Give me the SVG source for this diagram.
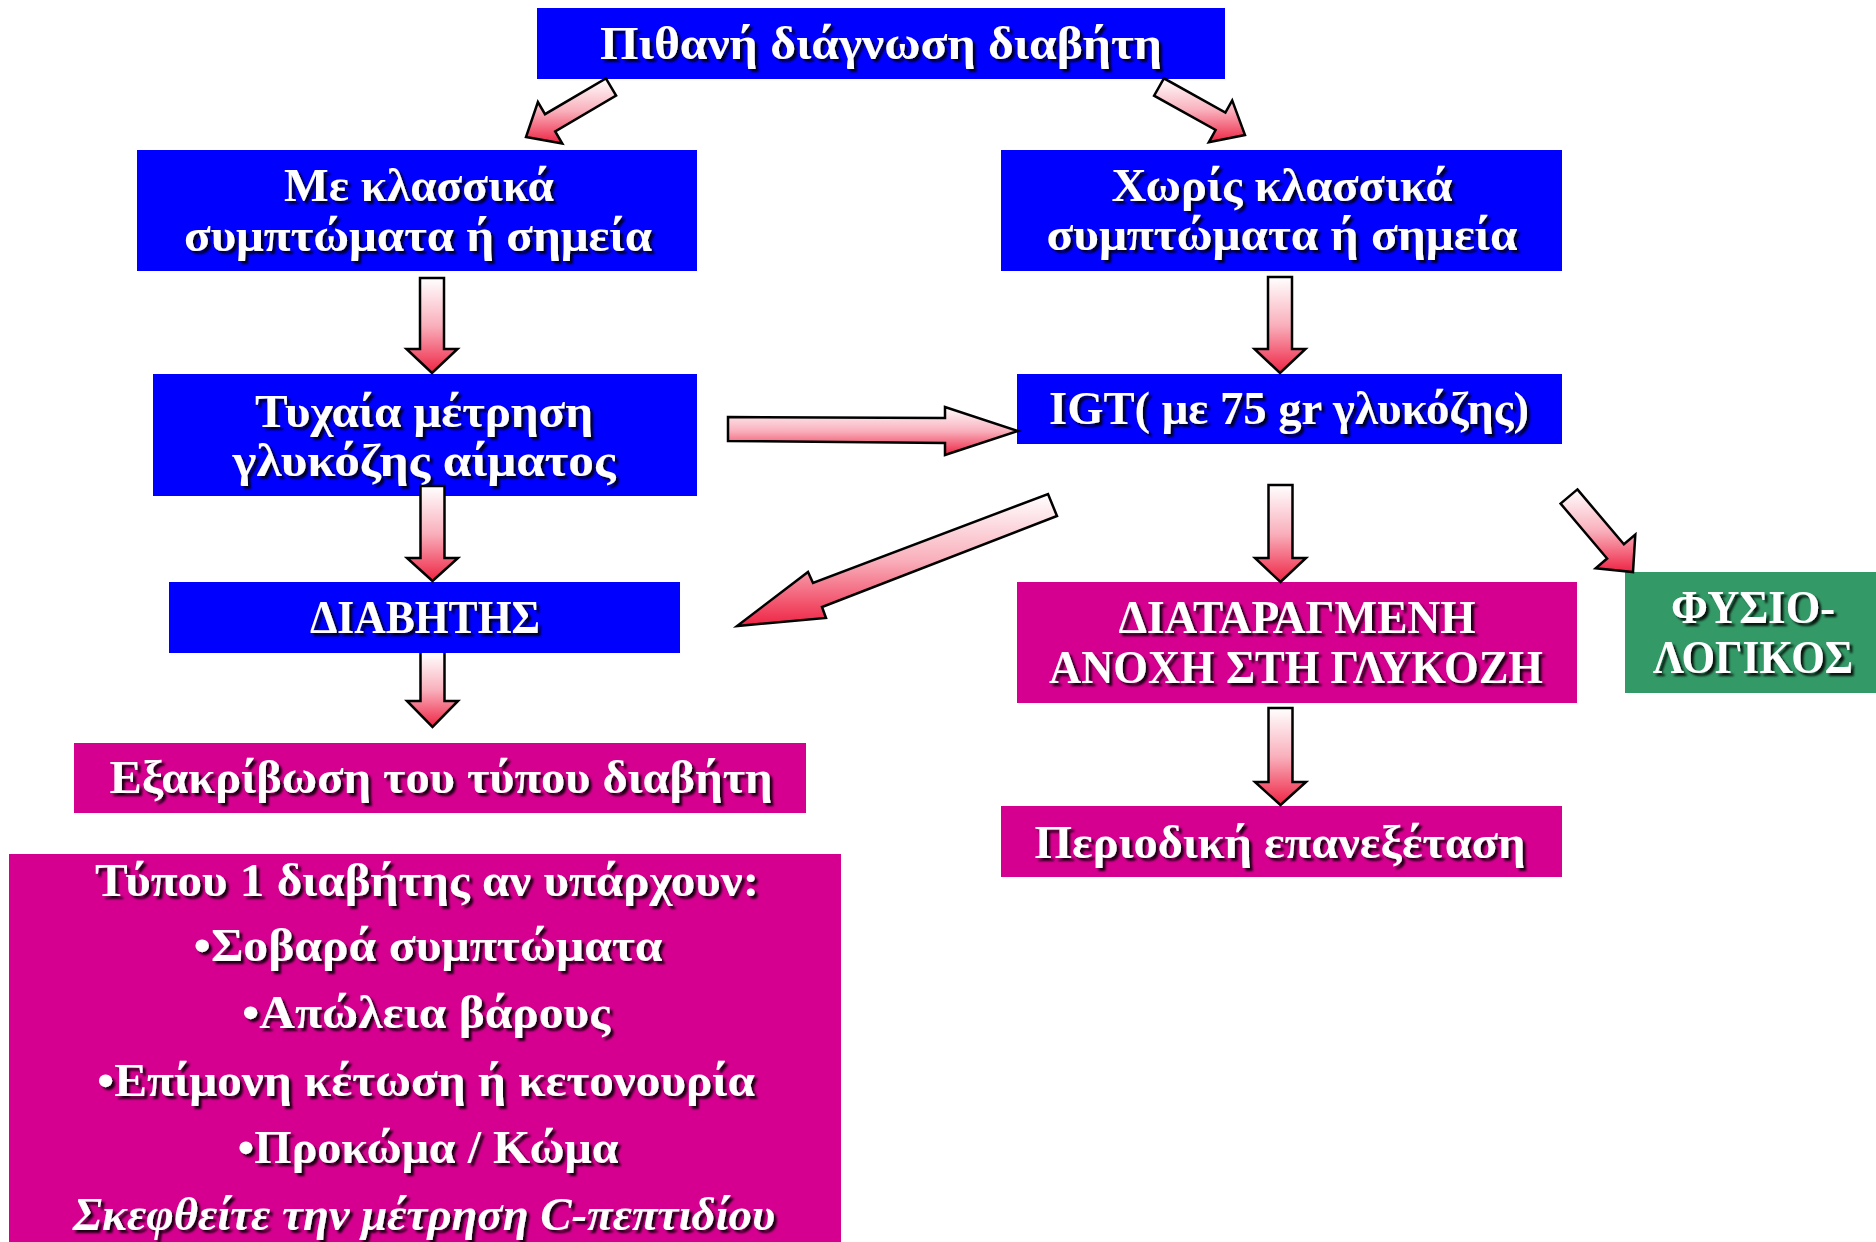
<svg xmlns="http://www.w3.org/2000/svg" width="1876" height="1242" viewBox="0 0 1876 1242">
<style>
.bl{fill:#0000FF}
.mg{fill:#D5008F}
.gr{fill:#339966}
.t{font-family:"Liberation Serif","DejaVu Serif",serif;font-size:46px;font-weight:bold;fill:#FFFFFF;text-anchor:middle;filter:url(#sh)}
.it{font-style:italic}
.ar{fill:url(#ag);stroke:#000000;stroke-width:2.5;stroke-linejoin:miter}
</style>
<defs>
<linearGradient id="ag" x1="0" y1="0" x2="0" y2="1">
<stop offset="0" stop-color="#FFFFFF"/>
<stop offset="0.5" stop-color="#F9B0BC"/>
<stop offset="1" stop-color="#EE2444"/>
</linearGradient>
<filter id="sh" x="-10%" y="-20%" width="120%" height="150%">
<feDropShadow dx="3" dy="3" stdDeviation="1.2" flood-color="#000000" flood-opacity="0.85"/>
</filter>
</defs>
<rect width="1876" height="1242" fill="#FFFFFF"/>

<g id="node-top">
<rect class="bl" x="537" y="8" width="688" height="71"/>
<text class="t" x="881" y="59" textLength="562" lengthAdjust="spacingAndGlyphs">Πιθανή διάγνωση διαβήτη</text>
</g>
<g id="node-with-symptoms">
<rect class="bl" x="137" y="150" width="560" height="121"/>
<text class="t" x="419" y="201" textLength="270" lengthAdjust="spacingAndGlyphs">Με κλασσικά</text>
<text class="t" x="418" y="251" textLength="468" lengthAdjust="spacingAndGlyphs">συμπτώματα ή σημεία</text>
</g>
<g id="node-without-symptoms">
<rect class="bl" x="1001" y="150" width="561" height="121"/>
<text class="t" x="1282" y="201" textLength="341" lengthAdjust="spacingAndGlyphs">Χωρίς κλασσικά</text>
<text class="t" x="1282" y="250" textLength="471" lengthAdjust="spacingAndGlyphs">συμπτώματα ή σημεία</text>
</g>
<g id="node-random">
<rect class="bl" x="153" y="374" width="544" height="122"/>
<text class="t" x="424" y="427" textLength="338" lengthAdjust="spacingAndGlyphs">Τυχαία μέτρηση</text>
<text class="t" x="424" y="476" textLength="383" lengthAdjust="spacingAndGlyphs">γλυκόζης αίματος</text>
</g>
<g id="node-igt">
<rect class="bl" x="1017" y="374" width="545" height="70"/>
<text class="t" x="1289" y="424" textLength="480" lengthAdjust="spacingAndGlyphs">IGT( με 75 gr γλυκόζης)</text>
</g>
<g id="node-diabetes">
<rect class="bl" x="169" y="582" width="511" height="71"/>
<text class="t" x="425" y="633" textLength="230" lengthAdjust="spacingAndGlyphs">ΔΙΑΒΗΤΗΣ</text>
</g>
<g id="node-igt-result">
<rect class="mg" x="1017" y="582" width="560" height="121"/>
<text class="t" x="1297" y="633" textLength="357" lengthAdjust="spacingAndGlyphs">ΔΙΑΤΑΡΑΓΜΕΝΗ</text>
<text class="t" x="1296" y="683" textLength="494" lengthAdjust="spacingAndGlyphs">ΑΝΟΧΗ ΣΤΗ ΓΛΥΚΟΖΗ</text>
</g>
<g id="node-normal">
<rect class="gr" x="1625" y="572" width="251" height="121"/>
<text class="t" x="1753" y="623" textLength="164" lengthAdjust="spacingAndGlyphs">ΦΥΣΙΟ-</text>
<text class="t" x="1753" y="673" textLength="200" lengthAdjust="spacingAndGlyphs">ΛΟΓΙΚΟΣ</text>
</g>
<g id="node-type">
<rect class="mg" x="74" y="743" width="732" height="70"/>
<text class="t" x="441" y="793" textLength="663" lengthAdjust="spacingAndGlyphs">Εξακρίβωση του τύπου διαβήτη</text>
</g>
<g id="node-type1">
<rect class="mg" x="9" y="854" width="832" height="388"/>
<text class="t" x="427" y="896" textLength="664" lengthAdjust="spacingAndGlyphs">Τύπου 1 διαβήτης αν υπάρχουν:</text>
<text class="t" x="428" y="961" textLength="469" lengthAdjust="spacingAndGlyphs">•Σοβαρά συμπτώματα</text>
<text class="t" x="426" y="1028" textLength="368" lengthAdjust="spacingAndGlyphs">•Απώλεια βάρους</text>
<text class="t" x="426" y="1096" textLength="658" lengthAdjust="spacingAndGlyphs">•Επίμονη κέτωση ή κετονουρία</text>
<text class="t" x="428" y="1163" textLength="381" lengthAdjust="spacingAndGlyphs">•Προκώμα / Κώμα</text>
<text class="t it" x="424" y="1230" textLength="702" lengthAdjust="spacingAndGlyphs">Σκεφθείτε την μέτρηση C-πεπτιδίου</text>
</g>
<g id="node-periodic">
<rect class="mg" x="1001" y="806" width="561" height="71"/>
<text class="t" x="1280" y="858" textLength="491" lengthAdjust="spacingAndGlyphs">Περιοδική επανεξέταση</text>
</g>

<g id="connectors">
<polygon class="ar" points="605.9,78.4 616.1,95.6 555.2,131.4 562.3,143.5 526,137 537.9,102.1 545.0,114.2"/>
<polygon class="ar" points="1163.9,78.3 1154.1,95.7 1215.6,130.0 1208.8,142.3 1245,135 1232.2,100.4 1225.4,112.6"/>
<polygon class="ar" points="420,278 444,278 444,349 457.5,349 432,373 406.5,349 420,349"/>
<polygon class="ar" points="1268,277 1292,277 1292,349 1305.5,349 1280,373 1254.5,349 1268,349"/>
<polygon class="ar" points="728,417 945,418 945,407 1018,431 945,455 945,443 728,441"/>
<polygon class="ar" points="420.5,486 444.5,486 444.5,558 458,558 432.5,581 407,558 420.5,558"/>
<polygon class="ar" points="1268.5,485 1292.5,485 1292.5,558 1306,558 1280.5,582 1255,558 1268.5,558"/>
<polygon class="ar" points="1048,494 1057,516 822,607 826,618 737,626 808,572 813,583"/>
<polygon class="ar" points="1577.4,489.4 1623.9,544.3 1635.3,534.6 1633,572 1595.7,568.2 1607.1,558.5 1560.6,503.6"/>
<path class="ar" d="M420.5,653 L420.5,701 L407,701 L432.5,727 L458,701 L444.5,701 L444.5,653"/>
<polygon class="ar" points="1268.5,708 1292.5,708 1292.5,782 1306,782 1280.5,805 1255,782 1268.5,782"/>
</g>
</svg>
